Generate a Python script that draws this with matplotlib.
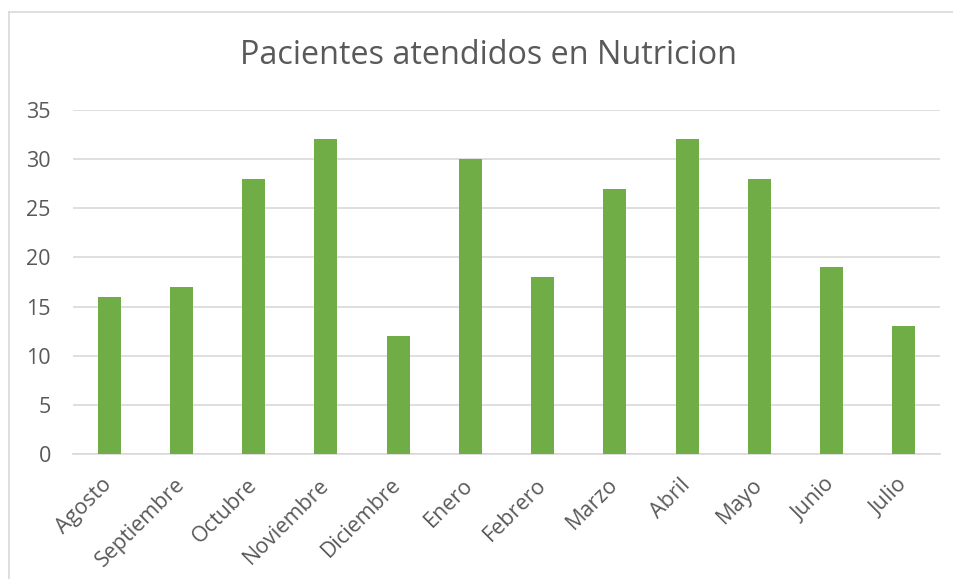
import matplotlib
matplotlib.use("Agg")
from matplotlib import pyplot as plt
from matplotlib.lines import Line2D

meses = ["Agosto", "Septiembre", "Octubre", "Noviembre", "Diciembre", "Enero",
         "Febrero", "Marzo", "Abril", "Mayo", "Junio", "Julio"]
pacientes = [16, 17, 28, 32, 12, 30, 18, 27, 32, 28, 19, 13]
yticks = [0, 5, 10, 15, 20, 25, 30, 35]

W, H = 954, 579
plt.rcParams['font.family'] = ['Open Sans', 'DejaVu Sans']
fig = plt.figure(figsize=(W/100, H/100), dpi=100)

# chart frame (cut by the screenshot on the right and bottom)
fig.add_artist(Line2D([9.5/W, 9.5/W], [0, 1 - 11.5/H], color='#d9d9d9', lw=1.2,
                      transform=fig.transFigure))
fig.add_artist(Line2D([9.5/W, 1], [1 - 11.5/H, 1 - 11.5/H], color='#d9d9d9', lw=1.2,
                      transform=fig.transFigure))

ax = fig.add_axes([73/W, 1 - 454/H, (940 - 73)/W, (454 - 110)/H])
x = range(len(meses))
ax.bar(x, pacientes, width=0.32, color='#70ad47', zorder=3)
ax.set_xlim(-0.5, len(meses) - 0.5)
ax.set_ylim(0, 35)
ax.set_yticks(yticks)
ax.yaxis.grid(True, color='#d9d9d9', lw=1.2, zorder=0)
for s in ['top', 'right', 'left']:
    ax.spines[s].set_visible(False)
ax.spines['bottom'].set_color('#d9d9d9')
ax.spines['bottom'].set_linewidth(1.2)
ax.tick_params(axis='y', length=0, pad=16, labelsize=15.5, labelcolor='#595959')
ax.tick_params(axis='x', length=0, pad=20, labelsize=15.5, labelcolor='#595959')
ax.set_xticks(list(x))
ax.set_xticklabels(meses, rotation=45, ha='right', va='center', rotation_mode='anchor')

fig.text(489/W, 1 - 56/H, "Pacientes atendidos en Nutricion", ha='center', va='center',
         fontsize=23.3, color='#595959')

fig.savefig("out.png", dpi=100)
